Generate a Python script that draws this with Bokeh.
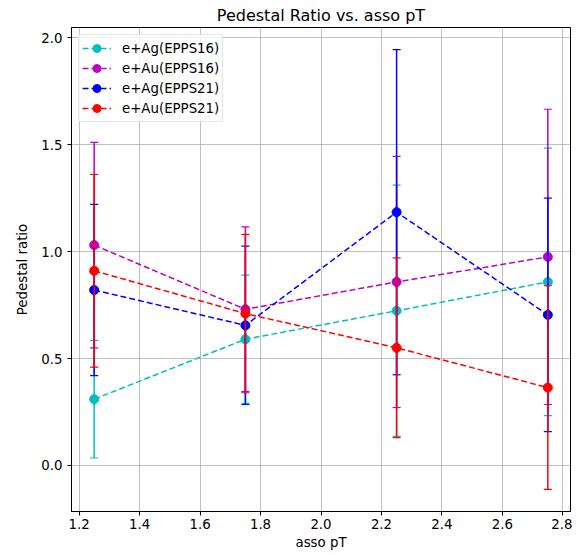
import numpy as np
from bokeh.plotting import figure
from bokeh.models import Range1d, FixedTicker, PrintfTickFormatter, ColumnDataSource, Legend, LegendItem
from bokeh.embed import file_html
from bokeh.resources import INLINE

# ---- data ----
asso_pt = [1.25, 1.75, 2.25, 2.75]
series_names = ["e+Ag(EPPS16)", "e+Au(EPPS16)", "e+Ag(EPPS21)", "e+Au(EPPS21)"]
ag_epps16 = [0.31, 0.59, 0.723, 0.858]
ag_epps16_err = [0.275, 0.30, 0.587, 0.625]
au_epps16 = [1.03, 0.73, 0.858, 0.975]
au_epps16_err = [0.48, 0.385, 0.587, 0.69]
ag_epps21 = [0.82, 0.655, 1.184, 0.704]
ag_epps21_err = [0.40, 0.37, 0.76, 0.546]
au_epps21 = [0.91, 0.71, 0.55, 0.364]
au_epps21_err = [0.45, 0.37, 0.42, 0.476]
colors = ["#00bfbf", "#bf00bf", "#0000ff", "#ff0000"]
x_ticks = [1.2, 1.4, 1.6, 1.8, 2.0, 2.2, 2.4, 2.6, 2.8]
y_ticks = [0.0, 0.5, 1.0, 1.5, 2.0]

FONT = "DejaVu Sans"

p = figure(frame_width=499, frame_height=484, output_backend="svg", toolbar_location=None,
           x_range=Range1d(1.175, 2.825), y_range=Range1d(-0.215, 2.047),
           title="Pedestal Ratio vs. asso pT",
           min_border_left=71, min_border_right=2, min_border_top=27, min_border_bottom=36)

p.title.align = "center"
p.title.text_font = FONT
p.title.text_font_size = "12pt"
p.title.text_font_style = "normal"
p.title.text_color = "black"
p.title.standoff = 6

p.outline_line_color = "black"
p.outline_line_alpha = 1
p.outline_line_width = 1

for ax in (p.xaxis, p.yaxis):
    ax.major_label_text_font = FONT
    ax.major_label_text_font_size = "10pt"
    ax.major_label_text_color = "black"
    ax.axis_label_text_font = FONT
    ax.axis_label_text_font_size = "10pt"
    ax.axis_label_text_font_style = "normal"
    ax.axis_label_text_color = "black"
    ax.major_tick_in = 0
    ax.major_tick_out = 4
    ax.minor_tick_line_color = None
    ax.major_tick_line_color = "black"
    ax.axis_line_color = "black"
    ax.formatter = PrintfTickFormatter(format="%.1f")

p.xaxis.ticker = FixedTicker(ticks=x_ticks)
p.yaxis.ticker = FixedTicker(ticks=y_ticks)
p.xaxis.axis_label = "asso pT"
p.yaxis.axis_label = "Pedestal ratio"
p.xaxis.major_label_standoff = 3
p.xaxis.axis_label_standoff = 3
p.yaxis.major_label_standoff = 5
p.yaxis.axis_label_standoff = 8

p.grid.grid_line_color = "#b0b0b0"
p.grid.grid_line_width = 0.8
p.xgrid.ticker = FixedTicker(ticks=x_ticks)
p.ygrid.ticker = FixedTicker(ticks=y_ticks)

all_vals = [ag_epps16, au_epps16, ag_epps21, au_epps21]
all_errs = [ag_epps16_err, au_epps16_err, ag_epps21_err, au_epps21_err]

items = []
for name, vals, errs, c in zip(series_names, all_vals, all_errs, colors):
    v = np.array(vals)
    e = np.array(errs)
    src = ColumnDataSource(dict(x=asso_pt, y=vals, lo=list(v - e), hi=list(v + e)))
    p.segment(x0="x", y0="lo", x1="x", y1="hi", source=src, line_color=c, line_width=1.5)
    p.scatter(x="x", y="lo", source=src, marker="dash", size=8, line_color=c, line_width=1.2)
    p.scatter(x="x", y="hi", source=src, marker="dash", size=8, line_color=c, line_width=1.2)
    vbar = p.scatter(x="x", y="y", source=src, marker="dash", angle=np.pi / 2, size=12,
                     line_color=c, line_width=1.5)
    ln = p.line(x="x", y="y", source=src, line_color=c, line_width=1.5, line_dash="6 3")
    sc = p.scatter(x="x", y="y", source=src, marker="circle", size=9, fill_color=c, line_color=c)
    items.append(LegendItem(label=name, renderers=[ln, vbar, sc]))

legend = Legend(items=items, location="top_left")
legend.label_text_font = FONT
legend.label_text_font_size = "10pt"
legend.label_text_color = "black"
legend.glyph_width = 29
legend.glyph_height = 20
legend.label_height = 20
legend.spacing = 0
legend.padding = 3
legend.margin = 7
legend.label_standoff = 11
legend.border_line_color = "#cccccc"
legend.border_line_width = 1
legend.background_fill_color = "white"
legend.background_fill_alpha = 0.8
p.add_layout(legend)

open("out.html", "w").write(file_html(p, INLINE))
